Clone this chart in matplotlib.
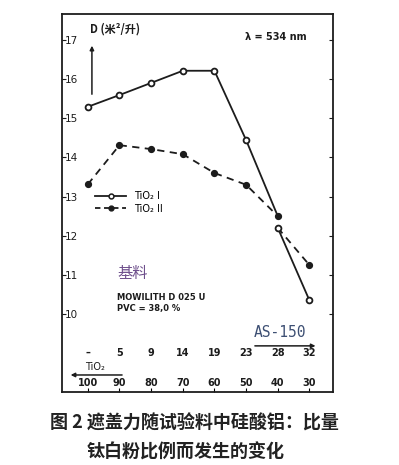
import matplotlib
matplotlib.use("Agg")
import matplotlib.pyplot as plt
import matplotlib.transforms as mtransforms

plt.rcParams['font.family'] = ['Noto Sans CJK SC', 'DejaVu Sans']

# AS-150 content (top row) and TiO2 content (bottom row)
as150_labels = ["–", "5", "9", "14", "19", "23", "28", "32"]
tio2_labels = ["100", "90", "80", "70", "60", "50", "40", "30"]

# hiding power D (m²/L)
tio2_i = [15.29, 15.59, 15.90, 16.21, 16.21, 14.44, 12.50]
tio2_ii = [13.31, 14.31, 14.21, 14.08, 13.60, 13.30, 12.50]
# after the crossing at 28 % AS-150 both curves restart from this point
split_28 = 12.20
tio2_i_end = 10.35
tio2_ii_end = 11.25

y_ticks = [10, 11, 12, 13, 14, 15, 16, 17]
caption = ["图 2 遮盖力随试验料中硅酸铝：比量", "钛白粉比例而发生的变化"]

ink = "#1c1c1c"

fig = plt.figure(figsize=(3.99, 4.65), dpi=100)
ax = fig.add_axes([0.155, 0.157, 0.68, 0.813])

idx = list(range(len(as150_labels)))
first = idx[:len(tio2_i)]
last = [idx[-2], idx[-1]]

# TiO2 I : solid line, open markers
ax.plot(first, tio2_i, "-", c=ink, lw=1.3)
ax.plot(last, [split_28, tio2_i_end], "-", c=ink, lw=1.3)
# TiO2 II : dashed line, filled markers
ax.plot(first, tio2_ii, "--", c=ink, lw=1.3, dashes=(4, 3))
ax.plot(last, [split_28, tio2_ii_end], "--", c=ink, lw=1.3, dashes=(4, 3))

ax.plot(first[:-1], tio2_i[:-1], "o", ms=4.2, mfc="white", mec=ink, mew=1.3)
ax.plot(first, tio2_ii, "o", ms=4.2, mfc=ink, mec=ink)
ax.plot([idx[-2]], [split_28], "o", ms=4.2, mfc="white", mec=ink, mew=1.3)
ax.plot([idx[-1]], [tio2_i_end], "o", ms=4.2, mfc="white", mec=ink, mew=1.3)
ax.plot([idx[-1]], [tio2_ii_end], "o", ms=4.2, mfc=ink, mec=ink)

ax.set_xlim(-0.82, 7.75)
ax.set_ylim(8.01, 17.66)

for s in ax.spines.values():
    s.set_linewidth(1.3)
    s.set_color(ink)

ax.set_yticks(y_ticks)
ax.set_yticklabels([str(v) for v in y_ticks])
ax.tick_params(axis="y", direction="in", length=3, pad=-2, labelsize=7.5,
               colors=ink, right=True)
for lab in ax.get_yticklabels():
    lab.set_ha("left")
    lab.set_family("DejaVu Sans")
ax.set_xticks(idx)
ax.set_xticklabels([])
ax.tick_params(axis="x", direction="in", length=3)

# two rows of x labels inside the frame
bt = mtransforms.blended_transform_factory(ax.transData, ax.transAxes)
for i, (a, t) in enumerate(zip(as150_labels, tio2_labels)):
    ax.text(i, 0.103, a, transform=bt, ha="center", va="center",
            fontsize=7, fontweight="bold", color=ink, family="DejaVu Sans")
    ax.text(i, 0.024, t, transform=bt, ha="center", va="center",
            fontsize=7, fontweight="bold", color=ink, family="DejaVu Sans")

# TiO2 arrow (left) and AS-150 arrow (right)
ax.annotate("", xy=(-0.63, 0.045), xytext=(1.17, 0.045), xycoords=bt,
            arrowprops=dict(arrowstyle="-|>", color=ink, lw=1.1,
                            mutation_scale=6))
ax.text(0.22, 0.066, "TiO₂", transform=bt, ha="center", va="center",
        fontsize=7, color=ink, family="DejaVu Sans")
ax.annotate("", xy=(7.28, 0.122), xytext=(5.19, 0.122), xycoords=bt,
            arrowprops=dict(arrowstyle="-|>", color=ink, lw=1.1,
                            mutation_scale=6))
ax.text(6.08, 0.158, "AS-150", transform=bt, ha="center", va="center",
        fontsize=10.5, color="#3d4f73", family="DejaVu Sans Mono")

# y-axis label with arrow
ax.annotate("", xy=(0.13, 16.92), xytext=(0.13, 15.54),
            arrowprops=dict(arrowstyle="-|>", color=ink, lw=1.1,
                            mutation_scale=6))
ax.text(0.06, 17.28, "D (米²/升)", ha="left", va="center", fontsize=8,
        color=ink, fontweight="bold")
ax.text(4.97, 17.08, "λ = 534 nm", ha="left", va="center", fontsize=7,
        color=ink, fontweight="bold", family="DejaVu Sans")

# legend
h1, = ax.plot([], [], "-o", c=ink, lw=1.3, ms=3.5, mfc="white", mew=1.1)
h2, = ax.plot([], [], "--o", c=ink, lw=1.3, ms=3.5, mfc=ink, dashes=(3, 2))
ax.legend([h1, h2], ["TiO₂ I", "TiO₂ II"], loc="upper left",
          bbox_to_anchor=(0.09, 0.555), frameon=False,
          handlelength=3.2, numpoints=1, labelspacing=0.3,
          prop={"family": "DejaVu Sans", "size": 7})

# binder information
ax.text(0.92, 11.03, "基料", ha="left", va="center", fontsize=11,
        color="#6e4f8c")
ax.text(0.92, 10.41, "MOWILITH D 025 U", ha="left", va="center",
        fontsize=6, fontweight="bold", color=ink, family="DejaVu Sans")
ax.text(0.92, 10.13, "PVC = 38,0 %", ha="left", va="center",
        fontsize=6, fontweight="bold", color=ink, family="DejaVu Sans")

fig.text(0.487, 0.090, caption[0], ha="center", va="center", fontsize=13,
         color="#222222", fontweight="bold")
fig.text(0.464, 0.028, caption[1], ha="center", va="center", fontsize=13,
         color="#222222", fontweight="bold")

fig.savefig("out.png", dpi=100)
